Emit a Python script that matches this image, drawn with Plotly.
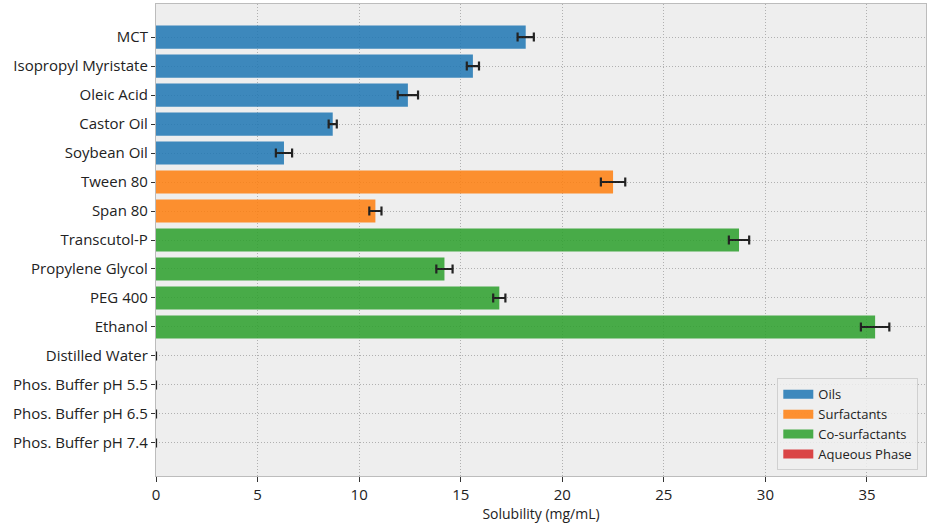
import plotly.graph_objects as go

# Solubility data
oils = ["MCT", "Isopropyl Myristate", "Oleic Acid", "Castor Oil", "Soybean Oil"]
oils_val = [18.2, 15.6, 12.4, 8.7, 6.3]
oils_err = [0.4, 0.3, 0.5, 0.2, 0.4]

surfactants = ["Tween 80", "Span 80"]
surfactants_val = [22.5, 10.8]
surfactants_err = [0.6, 0.3]

cosurfactants = ["Transcutol-P", "Propylene Glycol", "PEG 400", "Ethanol"]
cosurfactants_val = [28.7, 14.2, 16.9, 35.4]
cosurfactants_err = [0.5, 0.4, 0.3, 0.7]

aqueous = ["Distilled Water", "Phos. Buffer pH 5.5", "Phos. Buffer pH 6.5", "Phos. Buffer pH 7.4"]
aqueous_val = [0, 0, 0, 0]
aqueous_err = [0, 0, 0, 0]

groups = [
    ("Oils", oils, oils_val, oils_err, "#1f77b4"),
    ("Surfactants", surfactants, surfactants_val, surfactants_err, "#ff7f0e"),
    ("Co-surfactants", cosurfactants, cosurfactants_val, cosurfactants_err, "#2ca02c"),
    ("Aqueous Phase", aqueous, aqueous_val, aqueous_err, "#d62728"),
]

all_labels = oils + surfactants + cosurfactants + aqueous

fig = go.Figure()
for name, labels, vals, errs, color in groups:
    fig.add_trace(go.Bar(
        x=vals, y=labels, orientation="h", name=name,
        marker=dict(color=color, line=dict(width=0)), opacity=0.85,
        width=0.8, showlegend=False,
        error_x=dict(type="data", array=errs, visible=True,
                     color="black", thickness=2.2, width=4.5),
    ))
    # legend entry drawn as a wide patch (thick line)
    fig.add_trace(go.Scatter(
        x=[None], y=[None], mode="lines", name=name,
        line=dict(color=color, width=9), opacity=0.85,
    ))

# matplotlib-like margins: 5% on the right, sticky at zero
x_max = max(v + e for _, _, vs, es, _ in groups for v, e in zip(vs, es)) * 1.05
n = len(all_labels)
pad = (n - 0.2) * 0.05 + 0.4

font = "'Open Sans', Roboto, sans-serif"
grid = dict(showgrid=True, gridcolor="#b0b0b0", griddash="1px,2px", gridwidth=0.8)
fig.update_layout(
    width=940, height=532,
    margin=dict(l=156, r=14, t=4, b=56),
    paper_bgcolor="white", plot_bgcolor="#eeeeee",
    font=dict(family=font, size=15, color="#222222"),
    barmode="overlay",
    showlegend=True,
    legend=dict(x=0.99, y=0.012, xanchor="right", yanchor="bottom",
                bgcolor="rgba(238,238,238,0.85)", bordercolor="#d0d0d0",
                borderwidth=1, font=dict(size=13), tracegroupgap=0),
)
fig.update_xaxes(
    range=[0, x_max], dtick=5, tick0=0,
    title=dict(text="Solubility (mg/mL)", font=dict(size=14), standoff=0),
    **grid,
    showline=True, linecolor="#bcbcbc", linewidth=1.2, mirror=True,
    ticks="outside", ticklen=5, tickcolor="#333333", tickwidth=1,
    zeroline=False,
)
fig.update_yaxes(
    categoryorder="array", categoryarray=all_labels,
    range=[n - 1 + pad, -pad],
    **grid,
    showline=True, linecolor="#bcbcbc", linewidth=1.2, mirror=True,
    ticks="outside", ticklen=4, tickcolor="#333333", tickwidth=1,
    zeroline=False,
)

fig.write_html("out.html", config={"displayModeBar": False})

# Remove the default page margin so the figure sits at the window corner
with open("out.html", "r", encoding="utf-8") as file:
    content = file.read()
content = content.replace("</head>", "<style>body{margin:0;}</style></head>")
with open("out.html", "w", encoding="utf-8") as file:
    file.write(content)
